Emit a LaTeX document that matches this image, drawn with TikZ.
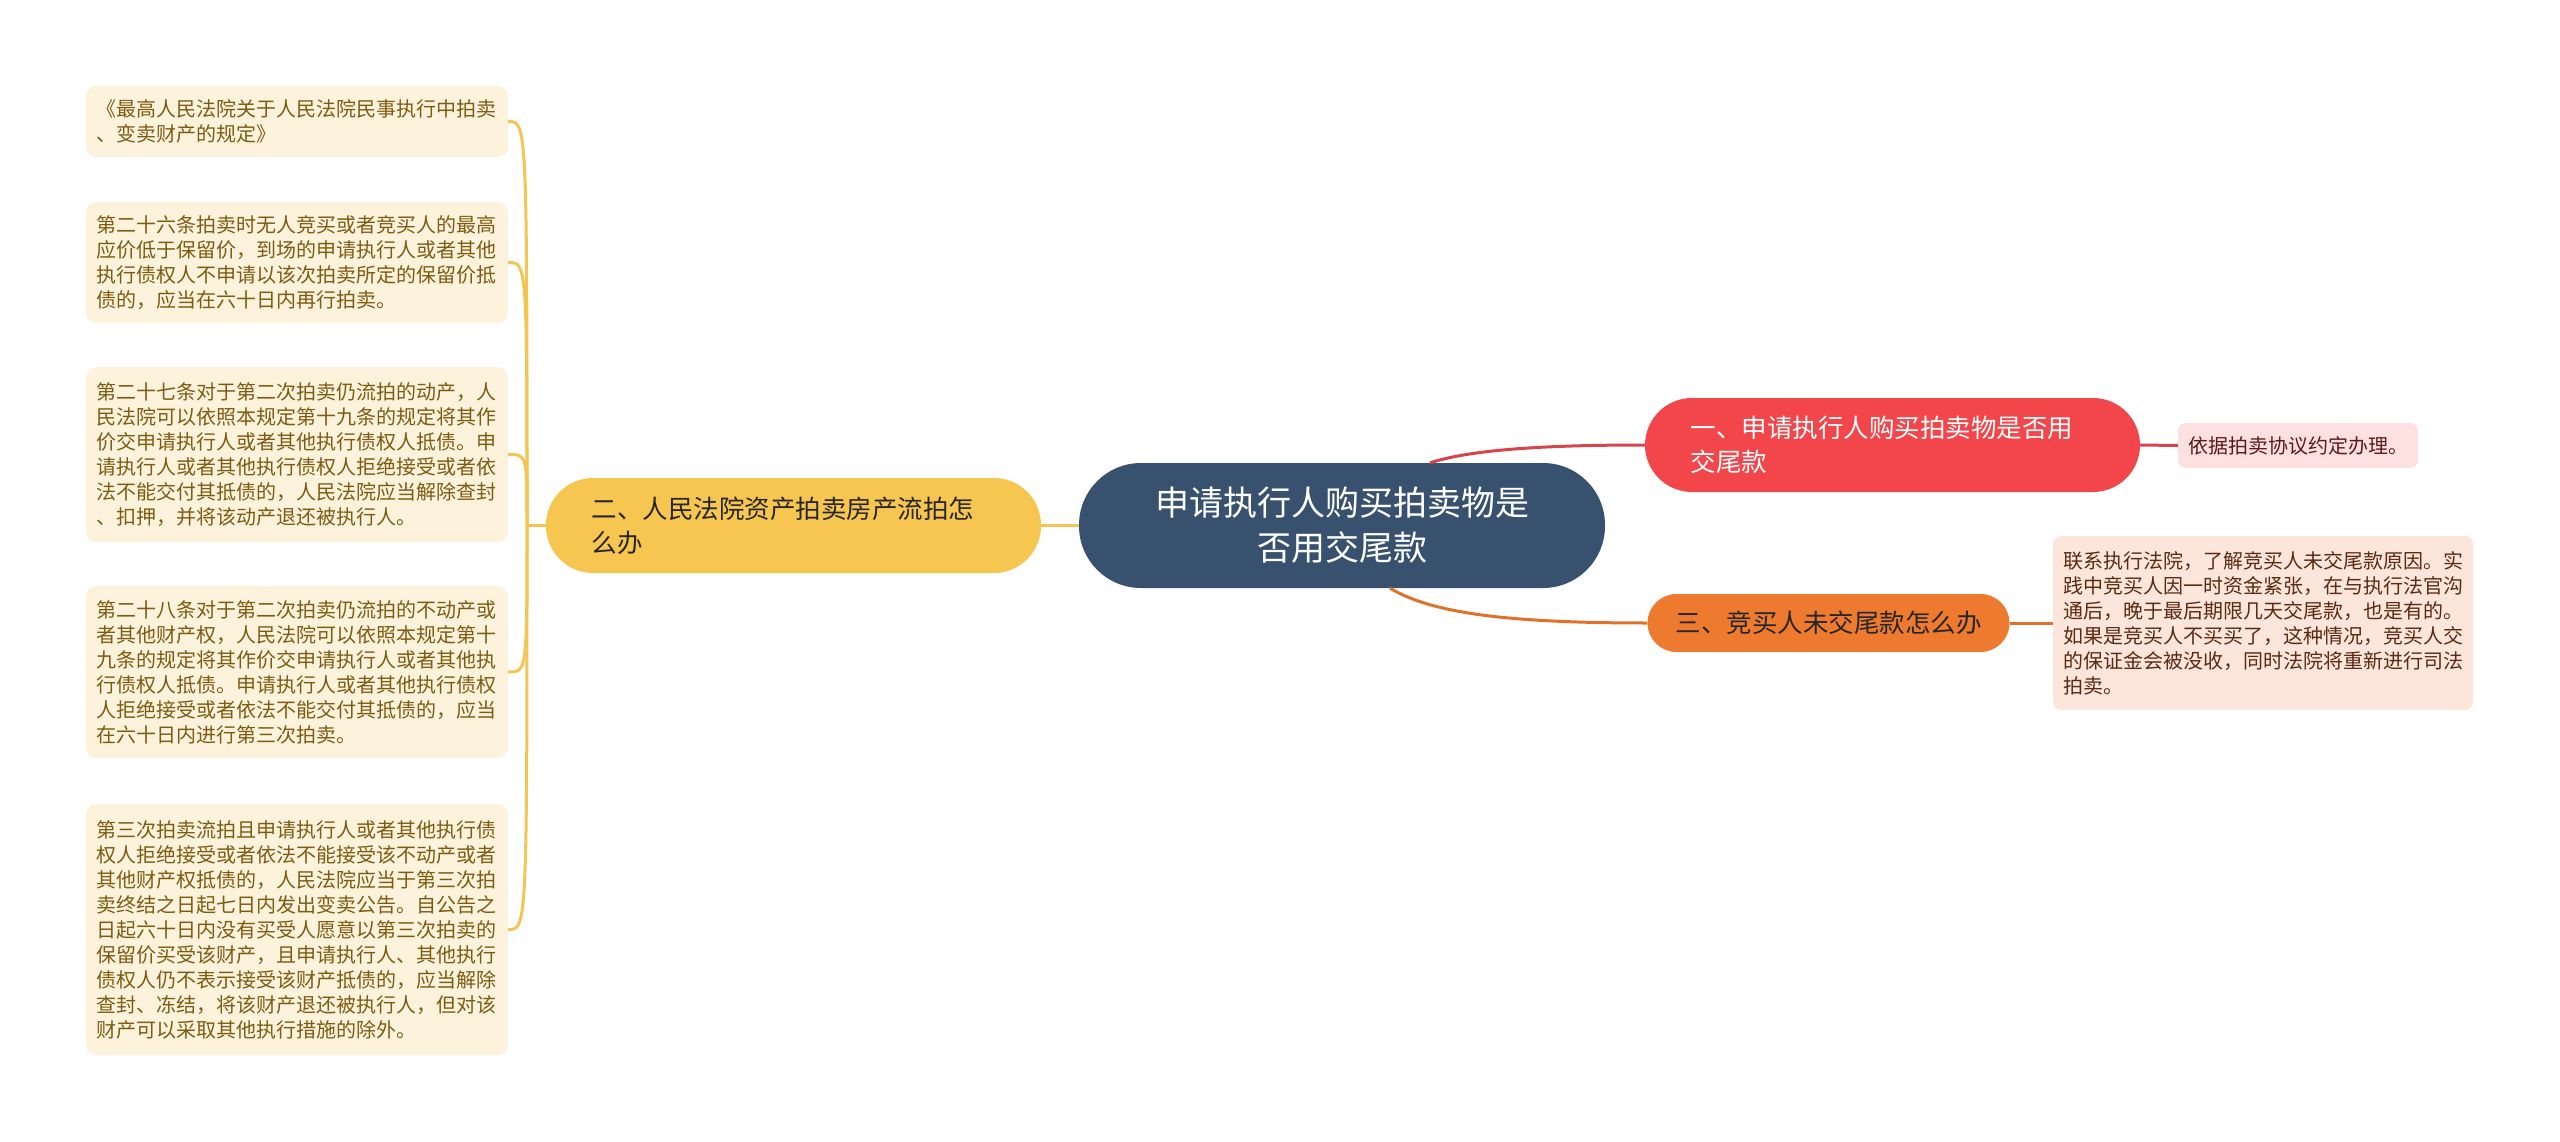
\documentclass[tikz,border=0pt]{standalone}
\usepackage{fontspec}
\usepackage{tikz}
\usepackage{xcolor}
\usetikzlibrary{positioning, calc}
\newfontfamily\cjk{Noto Sans CJK SC}

\definecolor{rootblue}{HTML}{37516F}
\definecolor{redbr}{HTML}{F2464B}
\definecolor{yellowbr}{HTML}{F7C650}
\definecolor{orangebr}{HTML}{EE7A30}
\definecolor{leafbg}{HTML}{FDF3DD}
\definecolor{leaftext}{HTML}{7D5B10}
\definecolor{pinkbg}{HTML}{FDE0E0}
\definecolor{pinktext}{HTML}{5C1A1A}
\definecolor{peachbg}{HTML}{FCE5DA}
\definecolor{peachtext}{HTML}{5A2A12}
\definecolor{yline}{HTML}{F4C553}
\definecolor{rline}{HTML}{D9434B}
\definecolor{oline}{HTML}{E0712B}

\tikzset{
  root/.style={fill=rootblue, text=white, rounded corners=62pt, align=center,
    minimum width=526pt, minimum height=125pt, inner sep=0pt,
    font=\cjk\fontsize{34}{45}\selectfont},
  branch/.style={rounded corners=47pt, inner ysep=0pt,
    font=\cjk\fontsize{25.5}{34}\selectfont},
  leaf/.style={fill=leafbg, text=leaftext, rounded corners=10pt, align=left,
    text width=401pt, inner xsep=10.5pt, inner ysep=0pt,
    font=\cjk\fontsize{20}{25}\selectfont},
  note/.style={rounded corners=8pt, inner xsep=10pt, inner ysep=0pt,
    font=\cjk\fontsize{20}{25}\selectfont},
  ylink/.style={draw=yline, line width=3pt},
  rlink/.style={draw=rline, line width=3pt},
  olink/.style={draw=oline, line width=3pt}
}

\begin{document}
\begin{tikzpicture}[x=1pt, y=-1pt]
\useasboundingbox (0,0) rectangle (2560,1142);
% centre
\node[root] (root) at (1342,525.5) {申请执行人购买拍卖物是\\否用交尾款};
% branches
\node[branch, fill=redbr, text=white, text width=404pt, align=left, inner xsep=45.5pt,
  minimum height=94pt] (b1) at (1892.5,445) {一、申请执行人购买拍卖物是否用\\交尾款};
\node[branch, fill=yellowbr, text=black!85, text width=404pt, align=left, inner xsep=45.5pt,
  minimum height=95pt] (b2) at (793.5,525.5) {二、人民法院资产拍卖房产流拍怎\\么办};
\node[branch, fill=orangebr, text=black!85, rounded corners=29pt, inner xsep=28pt,
  minimum height=58pt] (b3) at (1828.5,623) {三、竞买人未交尾款怎么办};
% right notes
\node[note, fill=pinkbg, text=pinktext, minimum height=45pt] (n1) at (2298,445.5)
  {依据拍卖协议约定办理。};
\node[note, fill=peachbg, text=peachtext, text width=400pt, align=left,
  minimum height=174pt] (n3) at (2263,623)
  {联系执行法院，了解竞买人未交尾款原因。实\\践中竞买人因一时资金紧张，在与执行法官沟\\通后，晚于最后期限几天交尾款，也是有的。\\如果是竞买人不买买了，这种情况，竞买人交\\的保证金会被没收，同时法院将重新进行司法\\拍卖。};
% left leaves
\node[leaf, minimum height=71pt] (leaf1) at (297,121.5)
  {《最高人民法院关于人民法院民事执行中拍卖\\、变卖财产的规定》};
\node[leaf, minimum height=121pt] (leaf2) at (297,262.5)
  {第二十六条拍卖时无人竞买或者竞买人的最高\\应价低于保留价，到场的申请执行人或者其他\\执行债权人不申请以该次拍卖所定的保留价抵\\债的，应当在六十日内再行拍卖。};
\node[leaf, minimum height=175pt] (leaf3) at (297,454.5)
  {第二十七条对于第二次拍卖仍流拍的动产，人\\民法院可以依照本规定第十九条的规定将其作\\价交申请执行人或者其他执行债权人抵债。申\\请执行人或者其他执行债权人拒绝接受或者依\\法不能交付其抵债的，人民法院应当解除查封\\、扣押，并将该动产退还被执行人。};
\node[leaf, minimum height=172pt] (leaf4) at (297,672)
  {第二十八条对于第二次拍卖仍流拍的不动产或\\者其他财产权，人民法院可以依照本规定第十\\九条的规定将其作价交申请执行人或者其他执\\行债权人抵债。申请执行人或者其他执行债权\\人拒绝接受或者依法不能交付其抵债的，应当\\在六十日内进行第三次拍卖。};
\node[leaf, minimum height=251pt] (leaf5) at (297,929.5)
  {第三次拍卖流拍且申请执行人或者其他执行债\\权人拒绝接受或者依法不能接受该不动产或者\\其他财产权抵债的，人民法院应当于第三次拍\\卖终结之日起七日内发出变卖公告。自公告之\\日起六十日内没有买受人愿意以第三次拍卖的\\保留价买受该财产，且申请执行人、其他执行\\债权人仍不表示接受该财产抵债的，应当解除\\查封、冻结，将该财产退还被执行人，但对该\\财产可以采取其他执行措施的除外。};
% links
\coordinate (hub) at (527,525.5);
\foreach \n in {1,...,5} {
    \draw[ylink] (leaf\n.east) .. controls (leaf\n.east -| hub) .. (hub);
}
\draw[ylink] (hub) -- (b2.west);
\draw[ylink] (b2.east) -- (root.west);
\draw[rlink] ([xshift=88pt]root.north) .. controls (1470,450) and (1540,445) .. (b1.west);
\draw[olink] ([xshift=48pt]root.south) .. controls (1430,612) and (1500,623) .. (b3.west);
\draw[rlink] (b1.east) -- (n1.west);
\draw[olink] (b3.east) -- (n3.west);
\end{tikzpicture}
\end{document}
